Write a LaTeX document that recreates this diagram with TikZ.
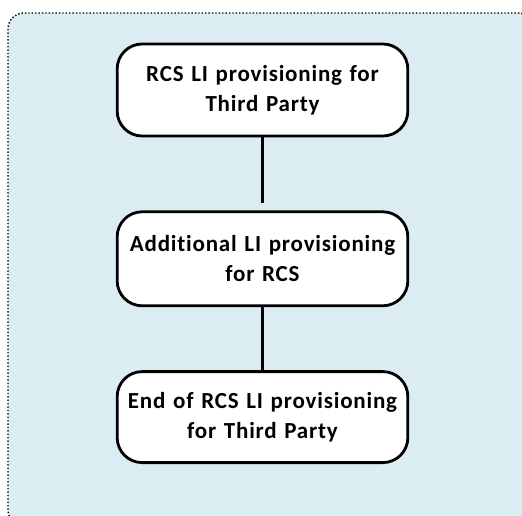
\documentclass[tikz,border=0pt]{standalone}
\usepackage{fontspec}
\setmainfont{Carlito}[Ligatures=NoCommon, LetterSpace=3.5]
\usepackage{xcolor}
\usepackage{tikz}
\usetikzlibrary{positioning}
\definecolor{panelblue}{RGB}{219,237,243}
\tikzstyle{stagebox} = [rectangle, rounded corners=25pt, minimum width=288pt,
    minimum height=92pt, text centered, text width=284pt, draw=black, fill=white,
    font=\fontsize{23}{30}\selectfont\bfseries, line width=2.8pt]
\tikzstyle{link} = [line width=2.5pt]

\begin{document}
\begin{tikzpicture}[x=1pt, y=1pt, node distance=73pt]
\useasboundingbox (0,0) rectangle (522,-516);
\clip (0,0) rectangle (522,-516);
% Panel
\draw[dotted, line width=1.4pt, fill=panelblue, rounded corners=16pt] (8,-13) rectangle (534,-526);
% Stages
\node[stagebox] (start) at (262.5,-90) {RCS LI provisioning for\\Third Party};
\node[stagebox, minimum height=94pt, minimum width=290pt, below=73pt of start] (extra) {Additional LI provisioning\\for RCS};
\node[stagebox, minimum height=91pt, below=63pt of extra] (finish) {End of RCS LI provisioning\\for Third Party};
% Links
\draw[link, shorten >=7pt] (start) -- (extra);
\draw[link] (extra) -- (finish);
\end{tikzpicture}
\end{document}
